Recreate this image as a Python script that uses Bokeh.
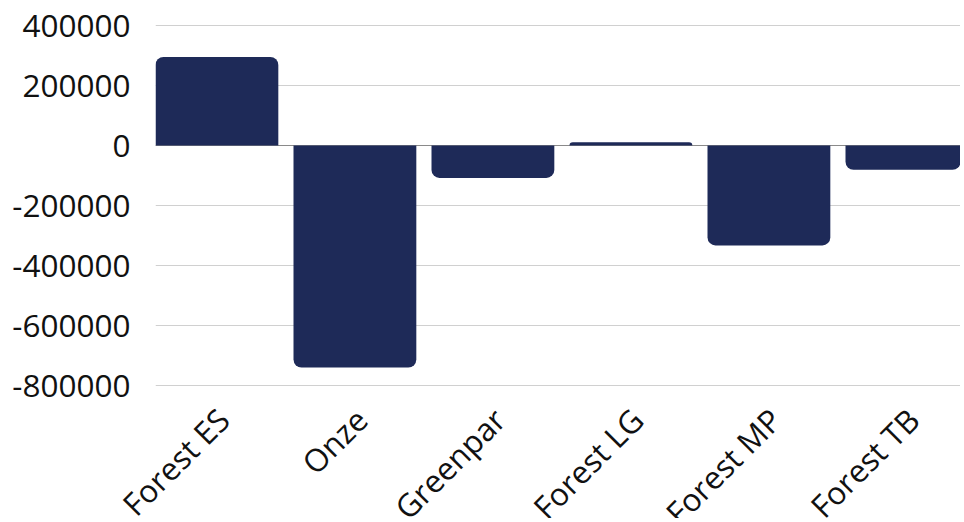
import math
from bokeh.plotting import figure
from bokeh.core.properties import value
from bokeh.models import (ColumnDataSource, FixedTicker, Span, Range1d, LabelSet)
from bokeh.embed import file_html
from bokeh.resources import INLINE

categories = ["Forest ES", "Onze", "Greenpar", "Forest LG", "Forest MP", "Forest TB"]
values = [295000, -740000, -108000, 11000, -333000, -81000]
y_ticks = [-800000, -600000, -400000, -200000, 0, 200000, 400000]
y_labels = [str(t) for t in y_ticks]

idx = list(range(len(categories)))
pos = ColumnDataSource(dict(x=[i for i in idx if values[i] >= 0],
                            top=[values[i] for i in idx if values[i] >= 0],
                            bottom=[0 for i in idx if values[i] >= 0]))
neg = ColumnDataSource(dict(x=[i for i in idx if values[i] < 0],
                            top=[0 for i in idx if values[i] < 0],
                            bottom=[values[i] for i in idx if values[i] < 0]))

W, H = 960, 518
LEFT, TOP = 155, 24
FRAME_BOTTOM = 386
BOTTOM_PAD = 18
STEP = 138.0
BAR_W = 0.89
x0 = -BAR_W / 2
FONT = "Open Sans"
FSIZE = "31.5px"
TXT = "#111111"

# one pixel of padding on the value axis so the edge grid lines stay visible
px = (y_ticks[-1] - y_ticks[0]) / (FRAME_BOTTOM - TOP - 2)
H1 = FRAME_BOTTOM + BOTTOM_PAD

p = figure(width=W, height=H1, output_backend="svg", toolbar_location=None,
           x_range=Range1d(x0, x0 + (W - LEFT) / STEP),
           y_range=Range1d(y_ticks[0] - px, y_ticks[-1] + px),
           x_axis_location=None,
           min_border_left=LEFT, min_border_right=0, min_border_top=TOP,
           min_border_bottom=BOTTOM_PAD)
p.outline_line_color = None
p.background_fill_color = "white"

color = "#1e2a58"
p.vbar(x="x", top="top", bottom="bottom", width=BAR_W, source=pos,
       fill_color=color, line_color=None, border_radius=(8, 8, 0, 0))
p.vbar(x="x", top="top", bottom="bottom", width=BAR_W, source=neg,
       fill_color=color, line_color=None, border_radius=(0, 0, 8, 8))

p.add_layout(Span(location=0, dimension="width", line_color="#8a8a8a",
                  line_width=1, level="underlay"))

p.ygrid.ticker = FixedTicker(ticks=y_ticks)
p.ygrid.grid_line_color = "#d0d0d0"
p.xgrid.grid_line_color = None

p.yaxis.ticker = FixedTicker(ticks=y_ticks)
p.yaxis.major_label_overrides = {t: s for t, s in zip(y_ticks, y_labels)}
p.yaxis.axis_line_color = None
p.yaxis.major_tick_line_color = None
p.yaxis.minor_tick_line_color = None
p.yaxis.major_tick_out = 0
p.yaxis.major_tick_in = 0
p.yaxis.major_label_standoff = 25
p.yaxis.major_label_text_font = FONT
p.yaxis.major_label_text_font_size = FSIZE
p.yaxis.major_label_text_color = TXT

# category labels strip below the chart, sharing the same horizontal scale
H2 = H - H1
p2 = figure(width=W, height=H2, output_backend="svg", toolbar_location=None,
            x_range=Range1d(x0 - LEFT / STEP, x0 + (W - LEFT) / STEP),
            y_range=Range1d(0, 1), x_axis_location=None, y_axis_location=None,
            min_border_left=0, min_border_right=0, min_border_top=0,
            min_border_bottom=0)
p2.outline_line_color = None
p2.xgrid.visible = False
p2.ygrid.visible = False
lab_src = ColumnDataSource(dict(x=idx, y=[1] * len(idx), text=categories))
p2.add_layout(LabelSet(x="x", y="y", text="text", source=lab_src,
                       angle=math.pi / 4, text_align="right",
                       text_baseline="alphabetic", x_offset=15,
                       y_offset=-(422 - H1),
                       text_font=value(FONT), text_font_size=value(FSIZE),
                       text_color=TXT))

open("out.html", "w").write(file_html([p, p2], INLINE))
